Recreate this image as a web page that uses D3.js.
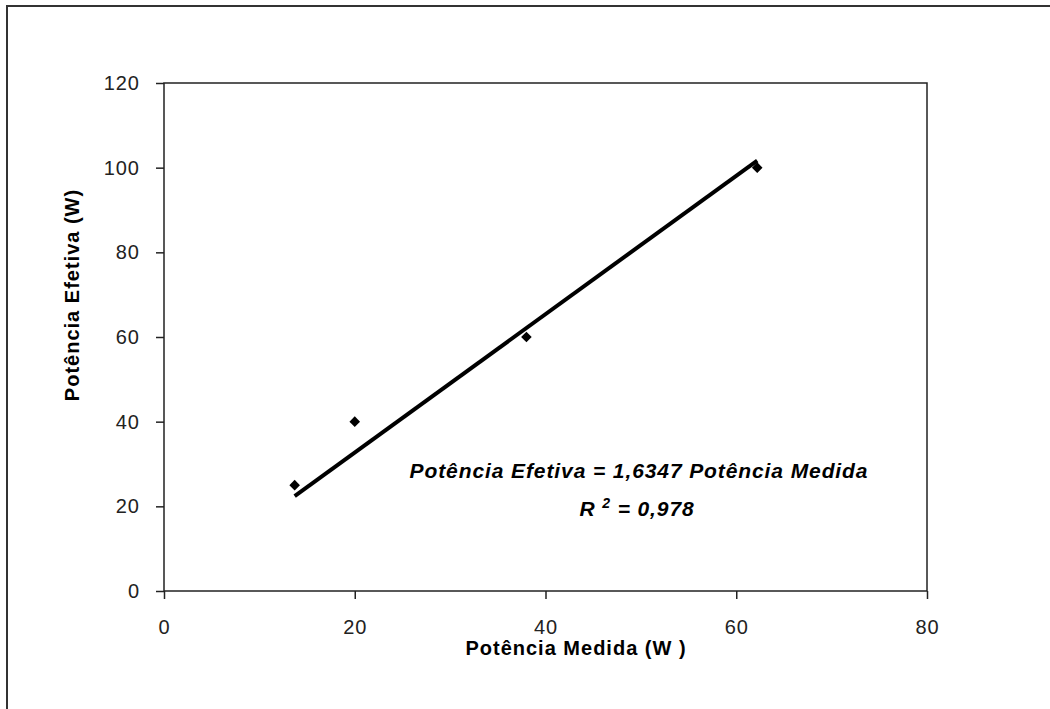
<!DOCTYPE html>
<html>
  <head>
    <meta charset="utf-8">
    <style>
      body {
          margin: 0;
          background: #fff;
          font-family: Arial, "Liberation Sans", sans-serif;
      }
      .tick text {
          font-size: 20px;
          letter-spacing: 1px;
          fill: #222;
      }
      .axis-title {
          font-size: 20px;
          font-weight: bold;
          letter-spacing: 1px;
      }
      .eq {
          font-size: 21px;
          font-weight: bold;
          font-style: italic;
          letter-spacing: 0.9px;
      }
    </style>
  </head>
  <body>
    <script src="https://d3js.org/d3.v7.min.js"></script>
    <script>
      // data
      var medida  = [13.7, 20, 38, 62.2];
      var efetiva = [25, 40, 60, 100];
      var slope = 1.6347;
      var xTicks = [0, 20, 40, 60, 80];
      var yTicks = [0, 20, 40, 60, 80, 100, 120];

      var width = 1050, height = 709;
      var margin = {top: 83, right: 123, bottom: 118, left: 164};
      var w = width - margin.left - margin.right,
          h = height - margin.top - margin.bottom;

      var svg = d3.select("body").append("svg")
          .attr("width", width)
          .attr("height", height);

      // outer frame, cut at right and bottom like the original
      svg.append("rect")
          .attr("x", 7).attr("y", 6)
          .attr("width", 1100).attr("height", 800)
          .attr("fill", "none")
          .attr("stroke", "#333")
          .attr("stroke-width", 2);

      var g = svg.append("g")
          .attr("transform", "translate(" + margin.left + "," + margin.top + ")");

      var x = d3.scaleLinear().domain([0, 80]).range([0, w]);
      var y = d3.scaleLinear().domain([0, 120]).range([h, 0]);

      // plot area border
      g.append("rect")
          .attr("width", w).attr("height", h)
          .attr("fill", "none")
          .attr("stroke", "#222")
          .attr("stroke-width", 1.5);

      g.append("g")
          .attr("transform", "translate(0," + h + ")")
          .call(d3.axisBottom(x).tickValues(xTicks).tickSize(8).tickPadding(21))
          .call(function(a) { a.select(".domain").remove(); })
          .selectAll("line").attr("stroke", "#222").attr("stroke-width", 1.5);

      g.append("g")
          .call(d3.axisLeft(y).tickValues(yTicks).tickSize(8).tickPadding(16))
          .call(function(a) { a.select(".domain").remove(); })
          .selectAll("line").attr("stroke", "#222").attr("stroke-width", 1.5);

      g.selectAll(".tick text")
          .attr("font-family", "Arial, 'Liberation Sans', sans-serif")
          .attr("font-size", null);

      // trend line through origin
      var x0 = d3.min(medida), x1 = d3.max(medida);
      g.append("line")
          .attr("x1", x(x0)).attr("y1", y(slope * x0))
          .attr("x2", x(x1)).attr("y2", y(slope * x1))
          .attr("stroke", "#000")
          .attr("stroke-width", 4);

      // points (rotated squares)
      g.selectAll(".pt")
          .data(medida)
          .enter().append("path")
          .attr("class", "pt")
          .attr("d", d3.symbol().type(d3.symbolSquare).size(56))
          .attr("transform", function(d, i) {
              return "translate(" + x(d) + "," + y(efetiva[i]) + ") rotate(45)";
          })
          .attr("fill", "#000");

      // axis titles
      svg.append("text")
          .attr("class", "axis-title")
          .attr("x", 576).attr("y", 655)
          .attr("text-anchor", "middle")
          .text("Potência Medida (W )");

      svg.append("text")
          .attr("class", "axis-title")
          .attr("transform", "translate(79,295) rotate(-90)")
          .attr("text-anchor", "middle")
          .text("Potência Efetiva (W)");

      // equation
      svg.append("text")
          .attr("class", "eq")
          .attr("x", 639).attr("y", 478)
          .attr("text-anchor", "middle")
          .text("Potência Efetiva = 1,6347 Potência Medida");

      var r2 = svg.append("text")
          .attr("class", "eq")
          .attr("x", 637).attr("y", 516)
          .attr("text-anchor", "middle");
      r2.append("tspan").text("R ");
      r2.append("tspan").attr("dy", -8).attr("font-size", 14).text("2");
      r2.append("tspan").attr("dy", 8).text("  = 0,978");
    </script>
  </body>
</html>
